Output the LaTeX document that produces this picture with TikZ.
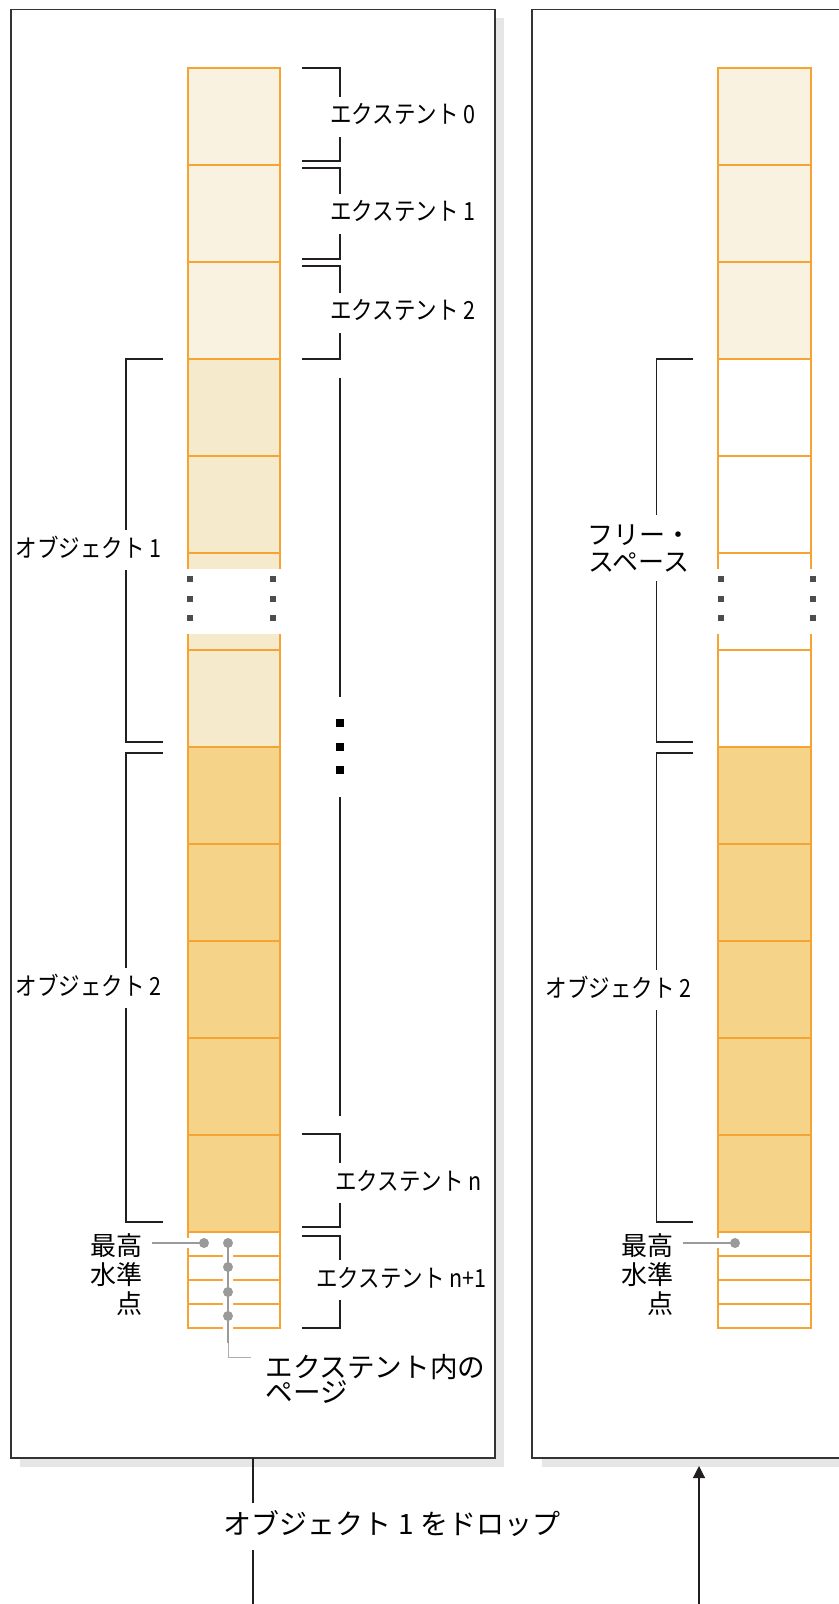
\documentclass[tikz,border=0pt]{standalone}
\usepackage{fontspec}
\setmainfont{Noto Sans CJK JP}
\newfontfamily\condfont[FakeStretch=0.86]{Noto Sans CJK JP}
\usetikzlibrary{arrows.meta,positioning,calc}
\definecolor{extorange}{HTML}{F5A433}
\definecolor{extlight}{HTML}{F9F2E1}
\definecolor{objone}{HTML}{F5EACB}
\definecolor{objtwo}{HTML}{F5D48A}
\definecolor{framegray}{HTML}{333333}
\definecolor{brackblack}{HTML}{231F20}
\definecolor{shadowgray}{HTML}{E6E6E6}
\definecolor{markgray}{HTML}{9A9A9A}
\definecolor{brkgray}{HTML}{4D4D4D}
\tikzset{
  panel/.style={draw=framegray, line width=0.75pt},
  panelshadow/.style={fill=shadowgray},
  extbox/.style={draw=extorange, line width=0.75pt},
  pageline/.style={draw=extorange, line width=0.75pt},
  bracket/.style={draw=brackblack, line width=0.6pt},
  extlabel/.style={
    fill=white,
    anchor=west,
    inner xsep=1pt, inner ysep=4.5pt,
    text height=9pt, text depth=2pt,
    font=\condfont\fontsize{12.5pt}{14pt}\selectfont},
  objlabel/.style={extlabel, anchor=east},
  sidelabel/.style={
    align=right,
    anchor=east,
    inner xsep=4.5pt, inner ysep=0pt,
    font=\fontsize{13pt}{14.5pt}\selectfont},
  markdot/.style={circle, fill=markgray, minimum size=5pt, inner sep=0pt},
  brkdot/.style={rectangle, fill=brkgray, minimum size=2.6pt, inner sep=0pt},
  bigdot/.style={rectangle, fill=black, minimum size=4.3pt, inner sep=0pt},
  markline/.style={draw=markgray, line width=1pt,
    preaction={draw=white, line width=5pt}},
  thinmark/.style={draw=markgray!80, line width=0.5pt},
}

\begin{document}
\begin{tikzpicture}[x=0.5pt,y=-0.5pt]
  \useasboundingbox (0,0) rectangle (839,1604);
  \clip (0,0) rectangle (839,1604);

  % panels (outlines drawn at the end)
  \fill[panelshadow] (20,18.5) rectangle (504,1467);
  \fill[white] (11,9.5) rectangle (495,1458);
  \fill[panelshadow] (542,18.5) rectangle (1030,1467);
  \fill[white] (532,9.5) rectangle (1020,1458);

  % left column: extents
  \foreach \i/\c in {0/extlight,1/extlight,2/extlight,3/objone,4/objone,5/objone,6/objone,
                     7/objtwo,8/objtwo,9/objtwo,10/objtwo,11/objtwo}
    \draw[extbox, fill=\c] (188,{68+97*\i}) rectangle (280,{165+97*\i});
  \draw[extbox, fill=white] (188,1232) rectangle (280,1328);
  \foreach \y in {1256,1280,1304}
    \draw[pageline] (188,\y) -- (280,\y);
  \fill[white] (185,569) rectangle (283,634);
  \foreach \y [count=\k] in {579,599,618}{
    \node[brkdot] (lbrka\k) at (190,\y) {};
    \node[brkdot] (lbrkb\k) at (273,\y) {};
  }

  % right column: after the drop
  \foreach \i/\c in {0/extlight,1/extlight,2/extlight,3/white,4/white,5/white,6/white,
                     7/objtwo,8/objtwo,9/objtwo,10/objtwo,11/objtwo}
    \draw[extbox, fill=\c] (718,{68+97*\i}) rectangle (811,{165+97*\i});
  \draw[extbox, fill=white] (718,1232) rectangle (811,1328);
  \foreach \y in {1256,1280,1304}
    \draw[pageline] (718,\y) -- (811,\y);
  \fill[white] (715,569) rectangle (815,634);
  \foreach \y [count=\k] in {579,599,618}{
    \node[brkdot] (rbrka\k) at (721,\y) {};
    \node[brkdot] (rbrkb\k) at (813,\y) {};
  }

  % extent brackets
  \foreach \t/\b/\m/\n in {68/161/117/0,168/259/214/1,266/359/313/2}{
    \draw[bracket] (302,\t) -| (340,\b) -- (302,\b);
    \node[extlabel] (ext\n lbl) at (328,\m) {エクステント \n};
  }
  \draw[bracket] (340,378) -- (340,697);
  \foreach \y [count=\k] in {723,747,770}
    \node[bigdot] (more\k) at (340,\y) {};
  \draw[bracket] (340,797) -- (340,1116);
  \draw[bracket] (302,1134) -| (340,1227) -- (302,1227);
  \node[extlabel] (extnlbl) at (333,1183) {エクステント n};
  \draw[bracket] (302,1236) -| (340,1328) -- (302,1328);
  \node[extlabel, anchor=east] (extnnlbl) at (489,1280) {エクステント n+1};

  % object brackets
  \draw[bracket] (163,359) -| (126,742) -- (163,742);
  \node[objlabel] (obj1lbl) at (164,550) {オブジェクト 1};
  \draw[bracket] (163,753) -| (126,1222) -- (163,1222);
  \node[objlabel] (obj2lbl) at (164,988) {オブジェクト 2};
  \draw[bracket] (693,359) -| (656.5,742) -- (693,742);
  \node[fill=white, align=center, inner xsep=1pt, inner ysep=4.5pt,
        font=\fontsize{13pt}{13.5pt}\selectfont] (freelbl) at (639,548) {フリー・\\スペース};
  \draw[bracket] (693,753) -| (656.5,1222) -- (693,1222);
  \node[objlabel] (obj2rlbl) at (694,990) {オブジェクト 2};

  % high water mark
  \node[sidelabel] (hwlbl) at (152,1275) {最高\\水準\\点};
  \coordinate (hwpt) at (204,1243);
  \draw[markline] (hwpt) -- (hwpt -| hwlbl.east);
  \node[markdot] (hwdot) at (hwpt) {};
  \node[sidelabel] (hwrlbl) at (683,1275) {最高\\水準\\点};
  \coordinate (hwrpt) at (735,1243);
  \draw[markline] (hwrpt) -- (hwrpt -| hwrlbl.east);
  \node[markdot] (hwrdot) at (hwrpt) {};

  % pages in an extent
  \foreach \y [count=\k] in {1243,1267,1292,1316}
    \coordinate (pg\k) at (228,\y);
  \coordinate (pgbend) at ($(pg4)+(0,27)$);
  \coordinate (pgend) at (251,1357);
  \draw[markline] (pg1) -- (pgbend);
  \draw[thinmark] (pgbend) |- (pgend);
  \foreach \k in {1,...,4}
    \node[markdot] (pgdot\k) at (pg\k) {};
  \node[anchor=west, align=left, inner sep=1pt,
        font=\fontsize{13.8pt}{12.5pt}\selectfont] (pglbl) at (263,1379) {エクステント内の\\ページ};

  % panel outlines
  \draw[panel] (11,9.5) rectangle (495,1458);
  \draw[panel] (532,9.5) rectangle (1020,1458);

  % drop
  \coordinate (lpout) at (253,1458);
  \coordinate (lpend) at (253,1604);
  \draw[bracket] (lpout) -- (lpend);
  \node[fill=white, inner xsep=2pt, inner ysep=5.25pt, text height=10.5pt, text depth=2.5pt,
        font=\fontsize{14pt}{16pt}\selectfont] (droplbl) at (392,1526) {オブジェクト 1 をドロップ};
  \coordinate (rpin) at (699,1466);
  \coordinate (rpstart) at (699,1604);
  \draw[bracket, -{Triangle[length=6pt, width=6pt]}] (rpstart) -- (rpin);
\end{tikzpicture}
\end{document}
